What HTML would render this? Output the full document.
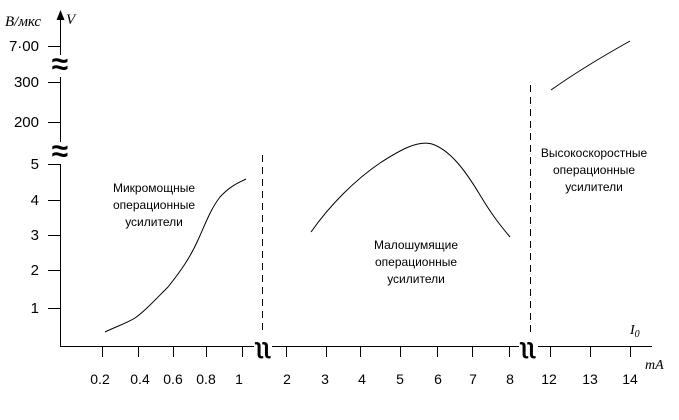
<!DOCTYPE html>
<html><head><meta charset="utf-8"><style>
body{margin:0;background:#fff;}
svg{display:block;font-family:"Liberation Sans",sans-serif;}
</style></head><body>
<svg width="679" height="420" viewBox="0 0 679 420">
<g stroke="#000" stroke-width="1" fill="none">
<g shape-rendering="crispEdges">
<line x1="60.5" y1="18" x2="60.5" y2="346"/>
<line x1="60" y1="346.5" x2="255" y2="346.5"/>
<line x1="272" y1="346.5" x2="520" y2="346.5"/>
<line x1="538" y1="346.5" x2="652" y2="346.5"/>
<line x1="102.5" y1="346" x2="102.5" y2="357"/><line x1="138.5" y1="346" x2="138.5" y2="357"/>
<line x1="173.5" y1="346" x2="173.5" y2="357"/><line x1="206.5" y1="346" x2="206.5" y2="357"/>
<line x1="242.5" y1="346" x2="242.5" y2="357"/><line x1="286.5" y1="346" x2="286.5" y2="357"/>
<line x1="326.5" y1="346" x2="326.5" y2="357"/><line x1="360.5" y1="346" x2="360.5" y2="357"/>
<line x1="400.5" y1="346" x2="400.5" y2="357"/><line x1="437.5" y1="346" x2="437.5" y2="357"/>
<line x1="472.5" y1="346" x2="472.5" y2="357"/><line x1="509.5" y1="346" x2="509.5" y2="357"/>
<line x1="550.5" y1="346" x2="550.5" y2="357"/><line x1="590.5" y1="346" x2="590.5" y2="357"/>
<line x1="630.5" y1="346" x2="630.5" y2="357"/>
<line x1="48" y1="308.5" x2="60" y2="308.5"/><line x1="48" y1="270.5" x2="60" y2="270.5"/>
<line x1="48" y1="235.5" x2="60" y2="235.5"/><line x1="48" y1="200.5" x2="60" y2="200.5"/>
<line x1="48" y1="164.5" x2="60" y2="164.5"/><line x1="48" y1="122.5" x2="60" y2="122.5"/>
<line x1="48" y1="82.5" x2="60" y2="82.5"/><line x1="48" y1="46.5" x2="60" y2="46.5"/>
<line x1="262.5" y1="155" x2="262.5" y2="330" stroke-dasharray="7,5"/>
<line x1="530.5" y1="85" x2="530.5" y2="335" stroke-dasharray="7,5"/>
</g>
<path d="M105,332 C115,327 125,324 135,318 C145,311 155,300 168,287 C180,272 190,258 198,240 C205,225 210,210 220,197 C230,186 238,183 246,179"/>
<path d="M311,232 C330,205 355,180 380,163 C400,150 418,140 432,144 C450,150 465,170 480,195 C492,215 500,225 510,237"/>
<path d="M551,90 C575,73 605,55 630,41"/>
</g>
<polygon points="60.5,10 56.5,20 64.5,20" fill="#000"/>
<rect x="49" y="55" width="22" height="22" fill="#fff"/>
<rect x="49" y="142" width="22" height="22" fill="#fff"/>
<text x="60" y="74" font-size="30" text-anchor="middle" font-weight="bold">≈</text>
<text x="60" y="161" font-size="30" text-anchor="middle" font-weight="bold">≈</text>
<rect x="254" y="335" width="18" height="20" fill="#fff"/>
<rect x="519" y="335" width="19" height="20" fill="#fff"/>
<text x="263" y="354" font-size="22" text-anchor="middle" font-weight="bold">ʅʅ</text>
<text x="528" y="354" font-size="22" text-anchor="middle" font-weight="bold">ʅʅ</text>
<g font-size="15" text-anchor="end">
<text x="39" y="313">1</text><text x="39" y="275">2</text><text x="39" y="240">3</text>
<text x="39" y="205">4</text><text x="39" y="169">5</text><text x="39" y="127">200</text>
<text x="39" y="87">300</text><text x="39" y="51">7·00</text>
</g>
<g font-size="14" text-anchor="middle">
<text x="100" y="384">0.2</text><text x="140" y="384">0.4</text><text x="173" y="384">0.6</text>
<text x="206" y="384">0.8</text><text x="239" y="384">1</text><text x="287" y="384">2</text>
<text x="325" y="384">3</text><text x="362" y="384">4</text><text x="400" y="384">5</text>
<text x="438" y="384">6</text><text x="473" y="384">7</text><text x="510" y="384">8</text>
<text x="549" y="384">12</text><text x="590" y="384">13</text><text x="630" y="384">14</text>
</g>
<text x="5" y="26" font-size="15" font-style="italic" font-family="Liberation Serif,serif">B/мкс</text>
<text x="66" y="24" font-size="15" font-style="italic" font-family="Liberation Serif,serif">V</text>
<text x="630" y="334" font-size="14" font-style="italic" font-family="Liberation Serif,serif">I<tspan font-size="10" dy="3">0</tspan></text>
<text x="645" y="369" font-size="14" font-style="italic" font-family="Liberation Serif,serif">mA</text>
<g font-size="12" text-anchor="middle">
<text x="154" y="192">Микромощные</text><text x="154" y="209">операционные</text><text x="154" y="226">усилители</text>
<text x="416" y="249">Малошумящие</text><text x="416" y="266">операционные</text><text x="416" y="283">усилители</text>
<text x="594" y="157">Высокоскоростные</text><text x="594" y="174">операционные</text><text x="594" y="191">усилители</text>
</g>
</svg>
</body></html>
